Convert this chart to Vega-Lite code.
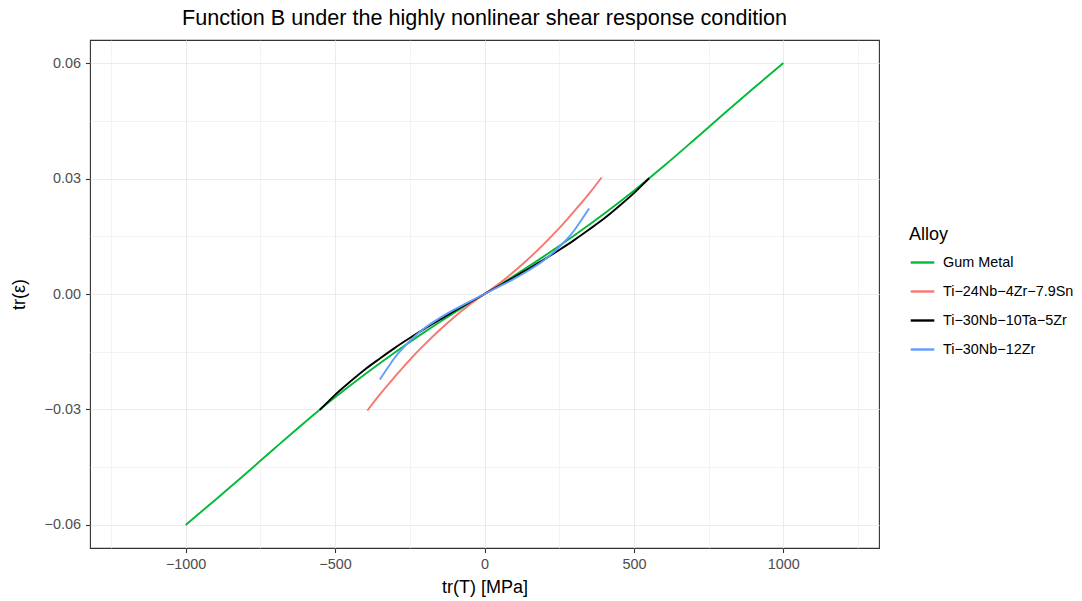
{
  "$schema": "https://vega.github.io/schema/vega-lite/v6.json",
  "width": 789,
  "height": 508,
  "autosize": {"type": "none"},
  "padding": {"left": 90, "top": 40, "right": 203, "bottom": 53},
  "background": "white",
  "title": {"text": "Function B under the highly nonlinear shear response condition", "fontSize": 21.6, "font": "Liberation Sans", "fontWeight": "normal", "color": "#000000", "anchor": "middle", "offset": 10.5},
  "config": {
    "view": {"stroke": "#333333", "strokeWidth": 1.1},
    "font": "Liberation Sans",
    "axis": {"labelFont": "Liberation Sans", "titleFont": "Liberation Sans"}
  },
  "datasets": {
    "curves": [
      {"alloy": "Gum Metal", "T": -1000, "e": -0.06},
      {"alloy": "Gum Metal", "T": -900, "e": -0.05345},
      {"alloy": "Gum Metal", "T": -800, "e": -0.04675},
      {"alloy": "Gum Metal", "T": -700, "e": -0.03995},
      {"alloy": "Gum Metal", "T": -600, "e": -0.03325},
      {"alloy": "Gum Metal", "T": -500, "e": -0.02685},
      {"alloy": "Gum Metal", "T": -400, "e": -0.02085},
      {"alloy": "Gum Metal", "T": -300, "e": -0.0152},
      {"alloy": "Gum Metal", "T": -200, "e": -0.00985},
      {"alloy": "Gum Metal", "T": -100, "e": -0.0048},
      {"alloy": "Gum Metal", "T": 0, "e": 0},
      {"alloy": "Gum Metal", "T": 100, "e": 0.0048},
      {"alloy": "Gum Metal", "T": 200, "e": 0.00985},
      {"alloy": "Gum Metal", "T": 300, "e": 0.0152},
      {"alloy": "Gum Metal", "T": 400, "e": 0.02085},
      {"alloy": "Gum Metal", "T": 500, "e": 0.02685},
      {"alloy": "Gum Metal", "T": 600, "e": 0.03325},
      {"alloy": "Gum Metal", "T": 700, "e": 0.03995},
      {"alloy": "Gum Metal", "T": 800, "e": 0.04675},
      {"alloy": "Gum Metal", "T": 900, "e": 0.05345},
      {"alloy": "Gum Metal", "T": 1000, "e": 0.06},

      {"alloy": "Ti−24Nb−4Zr−7.9Sn", "T": -392, "e": -0.0303},
      {"alloy": "Ti−24Nb−4Zr−7.9Sn", "T": -350, "e": -0.0261},
      {"alloy": "Ti−24Nb−4Zr−7.9Sn", "T": -300, "e": -0.0215},
      {"alloy": "Ti−24Nb−4Zr−7.9Sn", "T": -250, "e": -0.0171},
      {"alloy": "Ti−24Nb−4Zr−7.9Sn", "T": -200, "e": -0.0131},
      {"alloy": "Ti−24Nb−4Zr−7.9Sn", "T": -150, "e": -0.00935},
      {"alloy": "Ti−24Nb−4Zr−7.9Sn", "T": -100, "e": -0.0059},
      {"alloy": "Ti−24Nb−4Zr−7.9Sn", "T": -50, "e": -0.0028},
      {"alloy": "Ti−24Nb−4Zr−7.9Sn", "T": 0, "e": 0},
      {"alloy": "Ti−24Nb−4Zr−7.9Sn", "T": 50, "e": 0.0028},
      {"alloy": "Ti−24Nb−4Zr−7.9Sn", "T": 100, "e": 0.0059},
      {"alloy": "Ti−24Nb−4Zr−7.9Sn", "T": 150, "e": 0.00935},
      {"alloy": "Ti−24Nb−4Zr−7.9Sn", "T": 200, "e": 0.0131},
      {"alloy": "Ti−24Nb−4Zr−7.9Sn", "T": 250, "e": 0.0171},
      {"alloy": "Ti−24Nb−4Zr−7.9Sn", "T": 300, "e": 0.0215},
      {"alloy": "Ti−24Nb−4Zr−7.9Sn", "T": 350, "e": 0.0261},
      {"alloy": "Ti−24Nb−4Zr−7.9Sn", "T": 392, "e": 0.0303},

      {"alloy": "Ti−30Nb−10Ta−5Zr", "T": -551, "e": -0.0301},
      {"alloy": "Ti−30Nb−10Ta−5Zr", "T": -525, "e": -0.0281},
      {"alloy": "Ti−30Nb−10Ta−5Zr", "T": -500, "e": -0.0262},
      {"alloy": "Ti−30Nb−10Ta−5Zr", "T": -450, "e": -0.0228},
      {"alloy": "Ti−30Nb−10Ta−5Zr", "T": -400, "e": -0.0196},
      {"alloy": "Ti−30Nb−10Ta−5Zr", "T": -350, "e": -0.01675},
      {"alloy": "Ti−30Nb−10Ta−5Zr", "T": -300, "e": -0.014},
      {"alloy": "Ti−30Nb−10Ta−5Zr", "T": -250, "e": -0.01145},
      {"alloy": "Ti−30Nb−10Ta−5Zr", "T": -200, "e": -0.009},
      {"alloy": "Ti−30Nb−10Ta−5Zr", "T": -150, "e": -0.0067},
      {"alloy": "Ti−30Nb−10Ta−5Zr", "T": -100, "e": -0.0044},
      {"alloy": "Ti−30Nb−10Ta−5Zr", "T": -50, "e": -0.0022},
      {"alloy": "Ti−30Nb−10Ta−5Zr", "T": 0, "e": 0},
      {"alloy": "Ti−30Nb−10Ta−5Zr", "T": 50, "e": 0.0022},
      {"alloy": "Ti−30Nb−10Ta−5Zr", "T": 100, "e": 0.0044},
      {"alloy": "Ti−30Nb−10Ta−5Zr", "T": 150, "e": 0.0067},
      {"alloy": "Ti−30Nb−10Ta−5Zr", "T": 200, "e": 0.009},
      {"alloy": "Ti−30Nb−10Ta−5Zr", "T": 250, "e": 0.01145},
      {"alloy": "Ti−30Nb−10Ta−5Zr", "T": 300, "e": 0.014},
      {"alloy": "Ti−30Nb−10Ta−5Zr", "T": 350, "e": 0.01675},
      {"alloy": "Ti−30Nb−10Ta−5Zr", "T": 400, "e": 0.0196},
      {"alloy": "Ti−30Nb−10Ta−5Zr", "T": 450, "e": 0.0228},
      {"alloy": "Ti−30Nb−10Ta−5Zr", "T": 500, "e": 0.0262},
      {"alloy": "Ti−30Nb−10Ta−5Zr", "T": 525, "e": 0.0281},
      {"alloy": "Ti−30Nb−10Ta−5Zr", "T": 551, "e": 0.0301},

      {"alloy": "Ti−30Nb−12Zr", "T": -350, "e": -0.0222},
      {"alloy": "Ti−30Nb−12Zr", "T": -325, "e": -0.0193},
      {"alloy": "Ti−30Nb−12Zr", "T": -300, "e": -0.0165},
      {"alloy": "Ti−30Nb−12Zr", "T": -250, "e": -0.0122},
      {"alloy": "Ti−30Nb−12Zr", "T": -200, "e": -0.00886},
      {"alloy": "Ti−30Nb−12Zr", "T": -150, "e": -0.00625},
      {"alloy": "Ti−30Nb−12Zr", "T": -100, "e": -0.004},
      {"alloy": "Ti−30Nb−12Zr", "T": -50, "e": -0.00196},
      {"alloy": "Ti−30Nb−12Zr", "T": 0, "e": 0},
      {"alloy": "Ti−30Nb−12Zr", "T": 50, "e": 0.00196},
      {"alloy": "Ti−30Nb−12Zr", "T": 100, "e": 0.004},
      {"alloy": "Ti−30Nb−12Zr", "T": 150, "e": 0.00625},
      {"alloy": "Ti−30Nb−12Zr", "T": 200, "e": 0.00886},
      {"alloy": "Ti−30Nb−12Zr", "T": 250, "e": 0.0122},
      {"alloy": "Ti−30Nb−12Zr", "T": 300, "e": 0.0165},
      {"alloy": "Ti−30Nb−12Zr", "T": 325, "e": 0.0193},
      {"alloy": "Ti−30Nb−12Zr", "T": 350, "e": 0.0222}
    ]
  },
  "data": {"name": "curves"},
  "resolve": {"axis": {"x": "independent", "y": "independent"}},
  "layer": [
    {
      "mark": {"type": "point", "opacity": 0},
      "encoding": {
        "x": {"field": "T", "type": "quantitative", "scale": {"domain": [-1320, 1320], "nice": false, "zero": false},
          "axis": {"orient": "bottom", "values": [-1250, -750, -250, 250, 750, 1250], "grid": true, "gridColor": "#EBEBEB", "gridWidth": 0.6, "labels": false, "ticks": false, "domain": false, "title": null}},
        "y": {"field": "e", "type": "quantitative", "scale": {"domain": [-0.066, 0.066], "nice": false, "zero": false},
          "axis": {"orient": "left", "values": [-0.045, -0.015, 0.015, 0.045], "grid": true, "gridColor": "#EBEBEB", "gridWidth": 0.6, "labels": false, "ticks": false, "domain": false, "title": null}}
      }
    },
    {
      "mark": {"type": "line", "strokeWidth": 1.9, "interpolate": "monotone"},
      "encoding": {
        "x": {"field": "T", "type": "quantitative", "scale": {"domain": [-1320, 1320], "nice": false, "zero": false},
          "axis": {"orient": "bottom", "values": [-1000, -500, 0, 500, 1000], "format": "d", "grid": true, "gridColor": "#EBEBEB", "gridWidth": 1.1, "domain": false, "ticks": true, "tickColor": "#333333", "tickSize": 4.5, "tickWidth": 1.1, "labelColor": "#4D4D4D", "labelFontSize": 14.4, "labelPadding": 5, "title": "tr(T) [MPa]", "titleFontSize": 18, "titleFontWeight": "normal", "titleColor": "#000000", "titlePadding": 7.5}},
        "y": {"field": "e", "type": "quantitative", "scale": {"domain": [-0.066, 0.066], "nice": false, "zero": false},
          "axis": {"orient": "left", "values": [-0.06, -0.03, 0, 0.03, 0.06], "format": ".2f", "grid": true, "gridColor": "#EBEBEB", "gridWidth": 1.1, "domain": false, "ticks": true, "tickColor": "#333333", "tickSize": 4.5, "tickWidth": 1.1, "labelColor": "#4D4D4D", "labelFontSize": 14.4, "labelPadding": 5, "title": "tr(ε)", "titleFontSize": 18, "titleFontWeight": "normal", "titleColor": "#000000", "titlePadding": 16}},
        "color": {"field": "alloy", "type": "nominal",
          "scale": {"domain": ["Gum Metal", "Ti−24Nb−4Zr−7.9Sn", "Ti−30Nb−10Ta−5Zr", "Ti−30Nb−12Zr"], "range": ["#00BA38", "#F8766D", "#000000", "#619CFF"]},
          "legend": {"title": "Alloy", "orient": "none", "legendX": 819, "legendY": 186, "padding": 0, "symbolType": "stroke", "symbolStrokeWidth": 2.4, "symbolSize": 557, "labelFontSize": 14.4, "labelColor": "#000000", "titleFontSize": 18, "titleFontWeight": "normal", "titleColor": "#000000", "titlePadding": 5, "rowPadding": 9, "labelOffset": 7}
        },
        "order": {"field": "T", "type": "quantitative"}
      }
    }
  ]
}
